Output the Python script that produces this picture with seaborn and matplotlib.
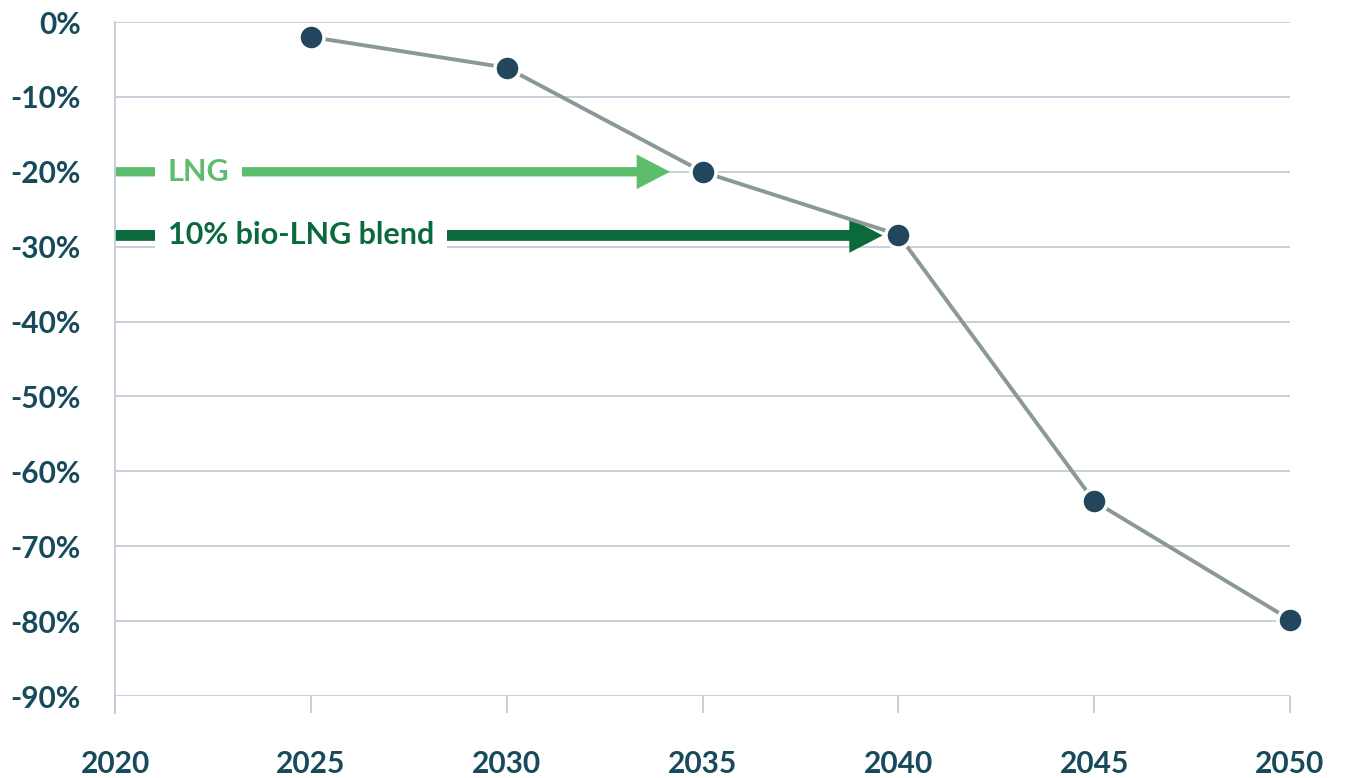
import pandas as pd
import matplotlib.pyplot as plt
import seaborn as sns

# Emission reduction path
years = [2025, 2030, 2035, 2040, 2045, 2050]
reduction = [-2, -6.1, -20, -28.4, -64, -79.8]
x_ticks = [2020, 2025, 2030, 2035, 2040, 2045, 2050]
y_ticks = [0, -10, -20, -30, -40, -50, -60, -70, -80, -90]

# Reference levels for the arrows
lng_level = -20
bio_level = -28.5

df = pd.DataFrame({"Year": years, "Reduction": reduction})

sns.set_style("white")
plt.rcParams["font.family"] = ["Lato", "DejaVu Sans"]

text_col = "#174a5a"
grid_col = "#c3ccd9"
light_green = "#5dbd6c"
dark_green = "#0b6a3b"

fig = plt.figure(figsize=(13.45, 7.78), dpi=100)
ax = fig.add_axes([115 / 1345, 1 - 696 / 778, 1175 / 1345, 674 / 778])

# Grid lines
for y in y_ticks:
    ax.axhline(y, color=grid_col, lw=1.3, zorder=0)

# Arrows with labels
ax.annotate("", xy=(2034.17, lng_level), xytext=(2020, lng_level),
            arrowprops=dict(arrowstyle="simple,head_length=24,head_width=25,tail_width=6.7",
                            mutation_scale=1, color=light_green, lw=0,
                            shrinkA=0, shrinkB=0),
            zorder=2)
ax.annotate("", xy=(2039.6, bio_level), xytext=(2020, bio_level),
            arrowprops=dict(arrowstyle="simple,head_length=24,head_width=25,tail_width=7.8",
                            mutation_scale=1, color=dark_green, lw=0,
                            shrinkA=0, shrinkB=0),
            zorder=2)
ax.text(2021.35, lng_level, "LNG", color=light_green, fontsize=22, fontweight="bold",
        va="center", ha="left", zorder=3,
        bbox=dict(facecolor="white", edgecolor="none", pad=9))
ax.text(2021.35, bio_level, "10% bio-LNG blend", color=dark_green, fontsize=22,
        fontweight="bold", va="center", ha="left", zorder=3,
        bbox=dict(facecolor="white", edgecolor="none", pad=9))

# Line with markers
sns.lineplot(data=df, x="Year", y="Reduction", ax=ax, color="#8a9896", lw=2.8,
             marker="o", markersize=18, markerfacecolor="#23465f",
             markeredgecolor="white", markeredgewidth=2.5, zorder=4, clip_on=False)

ax.set_xlim(2020, 2050)
ax.set_ylim(-90, 0)
ax.set_xticks(x_ticks)
ax.set_yticks(y_ticks)
ax.set_yticklabels([f"{v}%" for v in y_ticks])
ax.set_xlabel("")
ax.set_ylabel("")

for s in ["top", "right", "bottom"]:
    ax.spines[s].set_visible(False)
ax.spines["left"].set_color(grid_col)
ax.spines["left"].set_linewidth(1.3)
ax.spines["left"].set_bounds(-92.3, 0)

ax.tick_params(axis="x", bottom=True, length=12, width=1.3, color=grid_col, pad=27,
               labelsize=21.5, labelcolor=text_col)
ax.tick_params(axis="y", left=False, pad=21, labelsize=21.5, labelcolor=text_col)
for lbl in ax.get_xticklabels() + ax.get_yticklabels():
    lbl.set_fontweight("bold")

fig.savefig("out.png", dpi=100, facecolor="white")
